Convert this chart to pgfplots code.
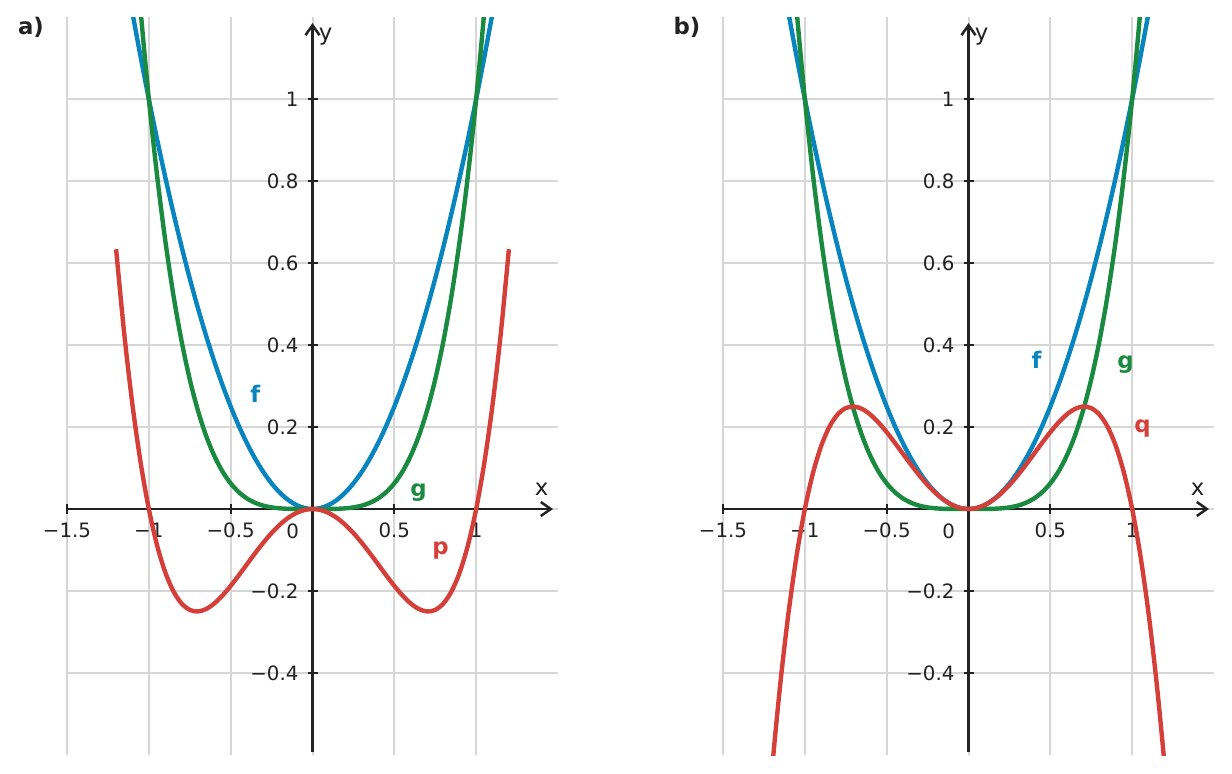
\documentclass[border=0pt]{standalone}
\usepackage{fontspec}
\setmainfont{DejaVu Sans}
\usepackage{pgfplots}
\usepackage{pgfplotstable}
\pgfplotsset{compat=1.18}
\usetikzlibrary{arrows.meta}

\definecolor{ink}{HTML}{222222}
\definecolor{gridgray}{HTML}{D6D6D6}
\definecolor{cf}{HTML}{0884BE}
\definecolor{cg}{HTML}{1A8A40}
\definecolor{cp}{HTML}{D43F3A}

% f = x^2, g = x^4, p = x^4 - x^2, q = x^2 - x^4
\pgfplotstableread{
x      f       g        p         q
-1.25  1.5625  2.44141  0.87891  -0.87891
-1.20  1.44    2.0736   0.6336   -0.6336
-1.15  1.3225  1.74901  0.42651  -0.42651
-1.10  1.21    1.4641   0.2541   -0.2541
-1.05  1.1025  1.21551  0.11301  -0.11301
-1.00  1       1        0         0
-0.95  0.9025  0.81451 -0.08799   0.08799
-0.90  0.81    0.6561  -0.1539    0.1539
-0.85  0.7225  0.52201 -0.20049   0.20049
-0.80  0.64    0.4096  -0.2304    0.2304
-0.75  0.5625  0.31641 -0.24609   0.24609
-0.70  0.49    0.2401  -0.2499    0.2499
-0.65  0.4225  0.17851 -0.24399   0.24399
-0.60  0.36    0.1296  -0.2304    0.2304
-0.55  0.3025  0.09151 -0.21099   0.21099
-0.50  0.25    0.0625  -0.1875    0.1875
-0.45  0.2025  0.04101 -0.16149   0.16149
-0.40  0.16    0.0256  -0.1344    0.1344
-0.35  0.1225  0.01501 -0.10749   0.10749
-0.30  0.09    0.0081  -0.0819    0.0819
-0.25  0.0625  0.00391 -0.05859   0.05859
-0.20  0.04    0.0016  -0.0384    0.0384
-0.15  0.0225  0.00051 -0.02199   0.02199
-0.10  0.01    0.0001  -0.0099    0.0099
-0.05  0.0025  0.00001 -0.00249   0.00249
 0.00  0       0        0         0
 0.05  0.0025  0.00001 -0.00249   0.00249
 0.10  0.01    0.0001  -0.0099    0.0099
 0.15  0.0225  0.00051 -0.02199   0.02199
 0.20  0.04    0.0016  -0.0384    0.0384
 0.25  0.0625  0.00391 -0.05859   0.05859
 0.30  0.09    0.0081  -0.0819    0.0819
 0.35  0.1225  0.01501 -0.10749   0.10749
 0.40  0.16    0.0256  -0.1344    0.1344
 0.45  0.2025  0.04101 -0.16149   0.16149
 0.50  0.25    0.0625  -0.1875    0.1875
 0.55  0.3025  0.09151 -0.21099   0.21099
 0.60  0.36    0.1296  -0.2304    0.2304
 0.65  0.4225  0.17851 -0.24399   0.24399
 0.70  0.49    0.2401  -0.2499    0.2499
 0.75  0.5625  0.31641 -0.24609   0.24609
 0.80  0.64    0.4096  -0.2304    0.2304
 0.85  0.7225  0.52201 -0.20049   0.20049
 0.90  0.81    0.6561  -0.1539    0.1539
 0.95  0.9025  0.81451 -0.08799   0.08799
 1.00  1       1        0         0
 1.05  1.1025  1.21551  0.11301  -0.11301
 1.10  1.21    1.4641   0.2541   -0.2541
 1.15  1.3225  1.74901  0.42651  -0.42651
 1.20  1.44    2.0736   0.6336   -0.6336
 1.25  1.5625  2.44141  0.87891  -0.87891
}\curves

\newcommand{\lbl}{\fontsize{9.9}{11.8}\selectfont}
\newcommand{\lblbig}{\fontsize{11.4}{13.6}\selectfont}

\pgfplotsset{
  layers/fnlayers/.define layer set={axis background,axis grid,main,axis ticks,axis lines,axis tick labels,axis descriptions,axis foreground}{},
  panel/.style={
    set layers=fnlayers,
    scale only axis, width=245.5pt, height=369pt, anchor=south west,
    xmin=-1.5, xmax=1.5, ymin=-0.6, ymax=1.2,
    axis lines=middle,
    axis line style={line width=1.25pt, color=ink},
    every inner x axis line/.append style={-{Straight Barb[length=5pt,width=7pt]}, shorten >=2.5pt},
    every inner y axis line/.append style={-{Straight Barb[length=5pt,width=7pt]}, shorten >=3pt, shorten <=1.5pt},
    xtick={-1.5,-1,-0.5,0,0.5,1}, xticklabels={−1.5,−1,−0.5,,0.5,1},
    ytick={-0.4,-0.2,0,0.2,0.4,0.6,0.8,1},
    yticklabels={−0.4,−0.2,,0.2,0.4,0.6,0.8,1},
    hide obscured x ticks=false, hide obscured y ticks=false,
    grid=major, grid style={line width=1pt, color=gridgray},
    tick align=center, major tick length=5pt,
    major tick style={line width=1.1pt, color=ink},
    ticklabel style={font=\lbl, text=ink},
    xticklabel style={anchor=north, yshift=-1pt},
    yticklabel style={anchor=east, xshift=-1pt},
    every axis plot/.append style={line width=2.2pt, smooth},
  }
}

\begin{document}
\begin{tikzpicture}[font=\lbl]

\begin{axis}[panel, at={(33.5pt,9pt)}]
  \addplot[cf] table[x=x, y=f] {\curves};
  \addplot[cg] table[x=x, y=g] {\curves};
  \addplot[cp, restrict x to domain=-1.21:1.21] table[x=x, y=p] {\curves};
  \node[text=ink, anchor=north east] at (axis cs:-0.04,-0.02) {0};
  \node[text=ink, font=\lblbig] at (axis cs:1.40,0.049) {x};
  \node[text=ink, font=\lblbig] at (axis cs:0.08,1.151) {y};
  \node[text=cf, font=\lblbig\bfseries] at (axis cs:-0.349,0.282) {f};
  \node[text=cg, font=\lblbig\bfseries] at (axis cs:0.648,0.041) {g};
  \node[text=cp, font=\lblbig\bfseries] at (axis cs:0.783,-0.102) {p};
\end{axis}

\begin{axis}[panel, at={(361.5pt,9pt)}]
  \addplot[cf] table[x=x, y=f] {\curves};
  \addplot[cg] table[x=x, y=g] {\curves};
  \addplot[cp] table[x=x, y=q] {\curves};
  \node[text=ink, anchor=north east] at (axis cs:-0.04,-0.02) {0};
  \node[text=ink, font=\lblbig] at (axis cs:1.40,0.049) {x};
  \node[text=ink, font=\lblbig] at (axis cs:0.08,1.151) {y};
  \node[text=cf, font=\lblbig\bfseries] at (axis cs:0.416,0.363) {f};
  \node[text=cg, font=\lblbig\bfseries] at (axis cs:0.96,0.353) {g};
  \node[text=cp, font=\lblbig\bfseries] at (axis cs:1.064,0.197) {q};
\end{axis}

\node[text=ink, font=\lblbig\bfseries] at (15.5pt,373pt) {a)};
\node[text=ink, font=\lblbig\bfseries] at (343.5pt,373pt) {b)};

\pgfresetboundingbox
\path[use as bounding box] (0,0) rectangle (616pt,386.5pt);
\end{tikzpicture}
\end{document}
